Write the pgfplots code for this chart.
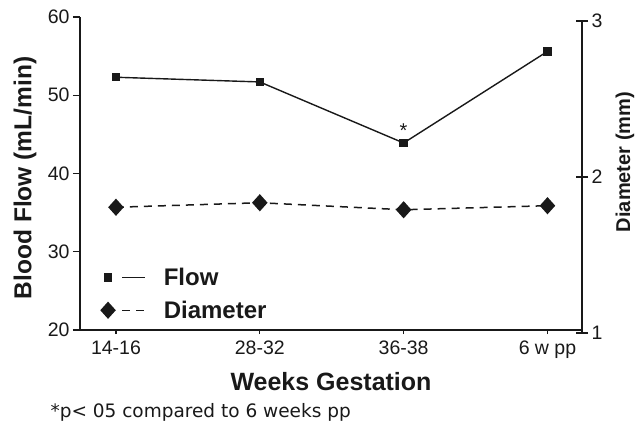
\documentclass[border=0pt]{standalone}
\usepackage{pgfplots}
\pgfplotsset{compat=1.18}
\usepackage{fontspec}
\setmainfont{Liberation Sans}
\newfontfamily\footfont{DejaVu Sans}
\definecolor{ink}{gray}{0.1}
\begin{document}
\begin{tikzpicture}
\useasboundingbox (-80bp,-96bp) rectangle (560bp,330bp);
\pgfplotsset{
  flowstyle/.style={ink, line width=1.4bp, mark=square*, mark size=3.5bp,
    legend image code/.code={
      \draw[##1, mark=none] (14bp,0bp) -- (37bp,0bp);
      \draw[##1] plot coordinates {(0bp,0bp)};
      \path (54bp,0bp);
    }},
  diamstyle/.style={ink, line width=1.5bp, dash pattern=on 8bp off 6bp, mark=diamond*, mark size=7.5bp, mark options={solid, xscale=1.2},
    legend image code/.code={
      \draw[##1, mark=none] (14bp,0bp) -- (37bp,0bp);
      \draw[##1] plot coordinates {(0bp,0bp)};
      \path (54bp,0bp);
    }},
}
\begin{axis}[
  at={(0,0)}, anchor=south west,
  scale only axis, width=502bp, height=313bp,
  xmin=-0.25, xmax=3.24, ymin=20, ymax=60,
  axis x line*=bottom, axis y line*=left,
  xtick={0,1,2,3}, xticklabels={14-16,28-32,36-38,6 w pp},
  ytick={20,30,40,50,60},
  tick align=outside,
  major tick length=7bp,
  xtick style={/pgfplots/major tick length=4bp},
  axis line style={line width=1.4bp, ink},
  tick style={line width=1.1bp, ink},
  tick label style={font=\fontsize{19.5bp}{22bp}\selectfont, text=ink},
  /pgf/number format/assume math mode=true,
  xlabel={Weeks Gestation},
  ylabel={Blood Flow (mL/min)},
  every axis x label/.style={at={(axis description cs:0.5,-0.166)}, anchor=center, font=\bfseries\fontsize{25bp}{28bp}\selectfont, text=ink},
  every axis y label/.style={at={(axis description cs:-0.1096,0.486)}, anchor=center, rotate=90, font=\bfseries\fontsize{24.5bp}{28bp}\selectfont, text=ink},
  clip=false,
]
\addplot[flowstyle] coordinates {(0,52.3) (1,51.7) (2,43.9) (3,55.6)};
\node[anchor=base, font=\fontsize{20bp}{22bp}\selectfont, text=ink] at (axis cs:2,43.9) [yshift=5bp] {*};
\end{axis}
\begin{axis}[
  at={(0bp,-3bp)}, anchor=south west,
  scale only axis, width=502bp, height=312bp,
  xmin=-0.25, xmax=3.24, ymin=1, ymax=3,
  axis y line*=right, axis x line=none,
  ytick={1,2,3},
  tick align=center,
  major tick length=12bp,
  axis line style={line width=1.4bp, ink},
  tick style={line width=1.1bp, ink},
  tick label style={font=\fontsize{19.5bp}{22bp}\selectfont, text=ink},
  /pgf/number format/assume math mode=true,
  ylabel={Diameter (mm)},
  every axis y label/.style={at={(axis description cs:1.0857,0.548)}, anchor=center, rotate=90, font=\bfseries\fontsize{20bp}{24bp}\selectfont, text=ink},
  legend style={at={(axis description cs:0.042,0.0388)}, anchor=south west, draw=none, fill=none, inner sep=0pt, row sep=12bp,
    font=\bfseries\fontsize{24bp}{28bp}\selectfont, text=ink,
    nodes={inner sep=1bp}},
  legend cell align=left,
  clip=false,
]
\addlegendimage{flowstyle}
\addlegendentry{Flow}
\addplot[diamstyle] coordinates {(0,1.806) (1,1.835) (2,1.79) (3,1.816)};
\addlegendentry{Diameter}
\end{axis}
\node[anchor=west, font=\footfont\fontsize{18.5bp}{22bp}\selectfont, text=ink] at (-33bp,-82bp) {*p< 05 compared to 6 weeks pp};
\end{tikzpicture}
\end{document}
